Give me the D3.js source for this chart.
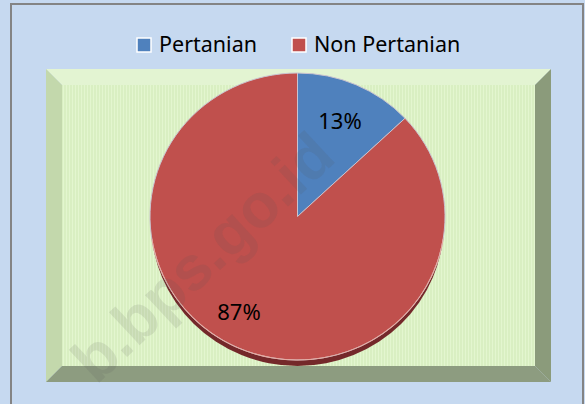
<!DOCTYPE html>
<html>
<head>
<meta charset="utf-8">
<script src="https://cdn.jsdelivr.net/npm/d3@7"></script>
<style>
  body { margin: 0; background: #c6d9f0; }
  svg { display: block; }
</style>
</head>
<body>
<div id="chart"></div>
<script>
// Chart data
var categories = ["Pertanian", "Non Pertanian"];
var shares = [13, 87];
var pctLabels = ["13%", "87%"];
var colors = ["#4f81bd", "#c0504d"];

var svgWidth = 585;
var svgHeight = 404;

var svg = d3.select("#chart")
  .append("svg")
  .attr("width", svgWidth)
  .attr("height", svgHeight);

// Background and outer frame
svg.append("rect")
  .attr("width", svgWidth)
  .attr("height", svgHeight)
  .attr("fill", "#c6d9f0");

svg.append("path")
  .attr("d", "M11,410 L11,4 L583,4 L583,410")
  .attr("fill", "none")
  .attr("stroke", "#848484")
  .attr("stroke-width", 2);

// Plot area with bevel
var outer = { x0: 46, y0: 69, x1: 551, y1: 382 };
var bev = 16;
var inner = { x0: outer.x0 + bev, y0: outer.y0 + bev, x1: outer.x1 - bev, y1: outer.y1 - bev };

var defs = svg.append("defs");
var pat = defs.append("pattern")
  .attr("id", "stripes")
  .attr("width", 3)
  .attr("height", 4)
  .attr("patternUnits", "userSpaceOnUse");
pat.append("rect").attr("width", 3).attr("height", 4).attr("fill", "#d9efc2");
pat.append("rect").attr("width", 1).attr("height", 4).attr("fill", "#e3f6cf");

function poly(pts) {
  return "M" + pts.map(p => p.join(",")).join("L") + "Z";
}

// top, left, bottom, right bevel faces
svg.append("path")
  .attr("d", poly([[outer.x0, outer.y0], [outer.x1, outer.y0], [inner.x1, inner.y0], [inner.x0, inner.y0]]))
  .attr("fill", "#e3f4d2");
svg.append("path")
  .attr("d", poly([[outer.x0, outer.y0], [inner.x0, inner.y0], [inner.x0, inner.y1], [outer.x0, outer.y1]]))
  .attr("fill", "#c3d8ac");
svg.append("path")
  .attr("d", poly([[outer.x0, outer.y1], [inner.x0, inner.y1], [inner.x1, inner.y1], [outer.x1, outer.y1]]))
  .attr("fill", "#8d9c80");
svg.append("path")
  .attr("d", poly([[outer.x1, outer.y0], [outer.x1, outer.y1], [inner.x1, inner.y1], [inner.x1, inner.y0]]))
  .attr("fill", "#8b9b7b");
svg.append("rect")
  .attr("x", inner.x0)
  .attr("y", inner.y0)
  .attr("width", inner.x1 - inner.x0)
  .attr("height", inner.y1 - inner.y0)
  .attr("fill", "url(#stripes)");

// Pie
var cx = 297.5, cy = 216.5;
var radius = 147.5;
var squash = 143.5 / 147.5;

var pie = d3.pie().sort(null).value(d => d);
var arcs = pie(shares);

var arc = d3.arc().innerRadius(0).outerRadius(radius);
var labelArc = d3.arc().innerRadius(107).outerRadius(107);

var pieGroup = svg.append("g")
  .attr("transform", `translate(${cx}, ${cy})`);

// 3D side / shadow under the pie
pieGroup.append("ellipse")
  .attr("cx", 0)
  .attr("cy", 6)
  .attr("rx", radius - 1)
  .attr("ry", radius * squash)
  .attr("fill", "#74282a");

var slices = pieGroup.append("g")
  .attr("transform", `scale(1, ${squash})`);

slices.selectAll("path")
  .data(arcs)
  .enter()
  .append("path")
  .attr("d", arc)
  .attr("fill", (d, i) => colors[i])
  .attr("stroke", "#c9c3cf")
  .attr("stroke-width", 1)
  .attr("vector-effect", "non-scaling-stroke");

// thin highlight rim at the bottom
slices.append("path")
  .attr("d", d3.arc().innerRadius(radius - 0.5).outerRadius(radius + 0.5)
    .startAngle(Math.PI * 0.55).endAngle(Math.PI * 1.45)())
  .attr("fill", "#e6aaa0");

// Percentage labels
pieGroup.selectAll("text.pct")
  .data(arcs)
  .enter()
  .append("text")
  .attr("class", "pct")
  .attr("x", (d, i) => labelArc.centroid(d)[0] + (i === 1 ? -16 : 0))
  .attr("y", d => labelArc.centroid(d)[1] * squash)
  .attr("dy", "0.36em")
  .style("font-family", "'Noto Sans', sans-serif")
  .style("font-size", "22px")
  .style("text-anchor", "middle")
  .style("fill", "#000")
  .text((d, i) => pctLabels[i]);

// Legend
var legendX = [137, 292];
var legend = svg.selectAll("g.legend")
  .data(categories)
  .enter()
  .append("g")
  .attr("class", "legend")
  .attr("transform", (d, i) => `translate(${legendX[i]}, 38)`);

legend.append("rect")
  .attr("width", 14)
  .attr("height", 14)
  .attr("fill", (d, i) => colors[i])
  .attr("stroke", "#ffffff")
  .attr("stroke-width", 1.5);

legend.append("text")
  .attr("x", 22)
  .attr("y", 14)
  .style("font-family", "'Noto Sans', sans-serif")
  .style("font-size", "21.5px")
  .style("fill", "#000")
  .text(d => d);

// faint watermark
svg.append("text")
  .attr("transform", "translate(338, 160) rotate(-43)")
  .style("font-family", "'Liberation Sans', sans-serif")
  .style("font-weight", "bold")
  .style("font-size", "62px")
  .style("text-anchor", "end")
  .style("fill", "#555")
  .style("fill-opacity", 0.13)
  .text("b.bps.go.id");
</script>
</body>
</html>
